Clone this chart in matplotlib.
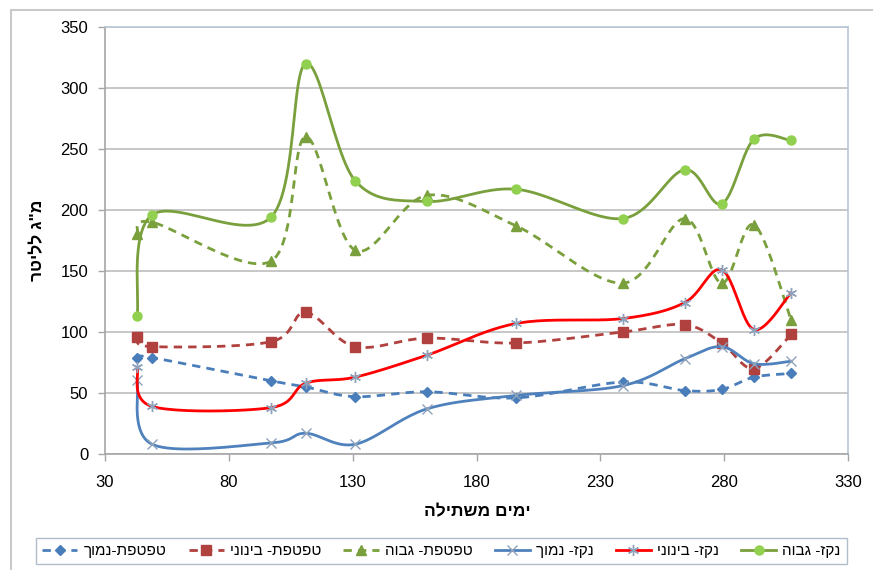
import numpy as np
import matplotlib
matplotlib.use("Agg")
import matplotlib.pyplot as plt
from matplotlib.patches import Rectangle

plt.rcParams['font.family'] = ['Liberation Sans', 'DejaVu Sans']

# ימים משתילה
days = [43, 49, 97, 111, 131, 160, 196, 239, 264, 279, 292, 307]

nkz_high = [113, 196, 194, 320, 224, 207, 217, 193, 233, 205, 258, 257]
nkz_mid = [71, 39, 38, 58, 63, 81, 107, 111, 124, 151, 102, 132]
nkz_low = [61, 8, 9, 17, 8, 37, 48, 56, 78, 88, 74, 76]
tif_high = [180, 190, 158, 260, 167, 212, 187, 140, 193, 140, 188, 110]
tif_mid = [96, 88, 92, 116, 88, 95, 91, 100, 106, 91, 70, 98]
tif_low = [79, 79, 60, 55, 47, 51, 46, 59, 52, 53, 63, 66]

xticks = [30, 80, 130, 180, 230, 280, 330]
yticks = [0, 50, 100, 150, 200, 250, 300, 350]

x_title = "ימים משתילה"
y_title = 'מ"ג לליטר'


def rtl(s):
    # matplotlib lays text out left to right, so flip hebrew for display
    return s[::-1]


def smooth(xs, ys, n=25):
    # cubic bezier through the points, control points like catmull-rom
    pts = np.column_stack([xs, ys]).astype(float)
    p = np.vstack([pts[0], pts, pts[-1]])
    t = np.linspace(0, 1, n)[:, None]
    out = []
    for i in range(len(pts) - 1):
        p0, p1, p2, p3 = p[i], p[i + 1], p[i + 2], p[i + 3]
        c1 = p1 + (p2 - p0) / 6
        c2 = p2 - (p3 - p1) / 6
        seg = (1 - t) ** 3 * p1 + 3 * (1 - t) ** 2 * t * c1 + 3 * (1 - t) * t ** 2 * c2 + t ** 3 * p2
        out.append(seg if i == 0 else seg[1:])
    return np.vstack(out), n - 1


fig = plt.figure(figsize=(8.73, 5.70), dpi=100)
ax = fig.add_axes([105 / 873, 1 - 454 / 570, 743 / 873, 427 / 570])

# frame around the whole chart
fig.patches.append(Rectangle((11 / 873, -0.2), 1.2, 0.2 + 1 - 10 / 570, transform=fig.transFigure,
                             fill=False, edgecolor='#c9c9c9', lw=1.5, zorder=0))

series = [
    ("טפטפת-נמוך", tif_low, dict(color='#4a7ebb', ls=(0, (3, 2.2)), marker='D', ms=5.5,
                                  mfc='#4a7ebb', mec='#4a7ebb')),
    ("טפטפת- בינוני", tif_mid, dict(color='#b0413e', ls=(0, (3, 2.2)), marker='s', ms=7,
                                     mfc='#b0413e', mec='#b0413e')),
    ("טפטפת- גבוה", tif_high, dict(color='#79a03c', ls=(0, (3, 2.2)), marker='^', ms=7,
                                   mfc='#79a03c', mec='#79a03c')),
    ("נקז- נמוך", nkz_low, dict(color='#4f81bd', ls='-', marker='x', ms=7,
                                mec='#8fa2bb', mew=1.0)),
    ("נקז- בינוני", nkz_mid, dict(color='#ff0000', ls='-', marker=(6, 2, 0), ms=8,
                                  mec='#8fa2bb', mew=1.0)),
    ("נקז- גבוה", nkz_high, dict(color='#79a03c', ls='-', marker='o', ms=6.5,
                                 mfc='#92d050', mec='#92d050')),
]

for name, vals, st in series:
    curve, step = smooth(days, vals)
    ax.plot(curve[:, 0], curve[:, 1], lw=2.0, markevery=slice(0, None, step),
            label=rtl(name), zorder=3, **st)

ax.set_xlim(30, 330)
ax.set_ylim(0, 350)
ax.set_xticks(xticks)
ax.set_yticks(yticks)
ax.tick_params(labelsize=12, length=5, width=1, color='#a6a6a6', pad=7)
ax.tick_params(axis='x', pad=10)
ax.grid(axis='y', color='#c3c3c3', lw=1.3)
ax.set_axisbelow(True)
for side in ['left', 'bottom']:
    ax.spines[side].set_color('#a6a6a6')
for side in ['top', 'right']:
    ax.spines[side].set_color('#b7c6d6')
for sp in ax.spines.values():
    sp.set_linewidth(1.2)

# axis titles placed directly in figure coordinates
fig.text(477 / 873, 1 - 512 / 570, rtl(x_title), fontsize=12.5, fontweight='bold',
         ha='center', va='center')
fig.text(38 / 873, 1 - 240 / 570, rtl(y_title), fontsize=12.5, fontweight='bold',
         ha='center', va='center', rotation=90)

leg = fig.legend(loc='center', bbox_to_anchor=(441.5 / 873, 1 - 551 / 570), ncol=6,
                 fontsize=11, frameon=True, fancybox=False, handlelength=2.3,
                 handletextpad=0.4, columnspacing=1.45, borderpad=0.4)
leg.get_frame().set_edgecolor('#9fadbd')
leg.get_frame().set_linewidth(1.0)

fig.savefig("out.png", dpi=100)
